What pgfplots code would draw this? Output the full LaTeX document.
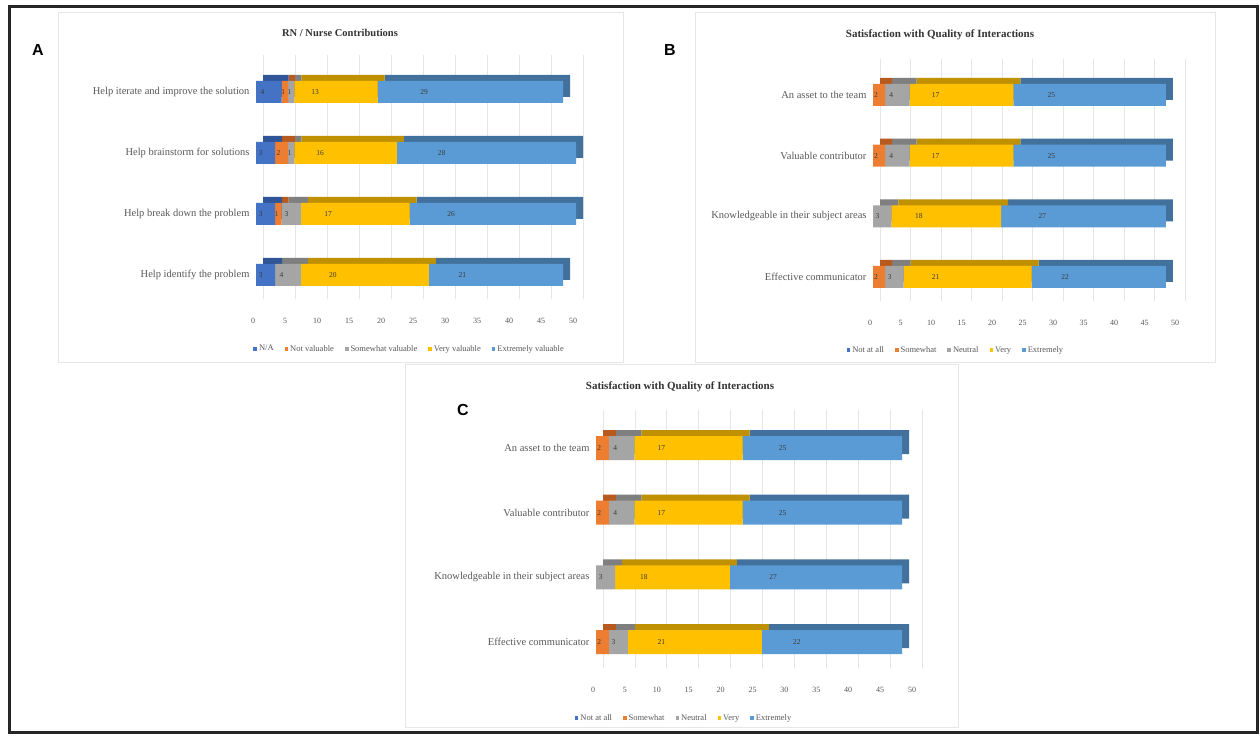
\documentclass[border=0pt]{standalone}
\usepackage{fontspec}
\setmainfont{Liberation Serif}
\newfontfamily\sansf{Liberation Sans}
\usepackage{pgfplots}
\usepackage{pgfplotstable}
\pgfplotsset{compat=1.18}

\definecolor{cA}{HTML}{4472C4}
\definecolor{cB}{HTML}{ED7D31}
\definecolor{cC}{HTML}{A5A5A5}
\definecolor{cD}{HTML}{FFC000}
\definecolor{cE}{HTML}{5B9BD5}
\definecolor{cAd}{HTML}{2F5597}
\definecolor{cBd}{HTML}{B85A1E}
\definecolor{cCd}{HTML}{7F7F7F}
\definecolor{cDd}{HTML}{BF9000}
\definecolor{cEd}{HTML}{41719C}
\definecolor{txt}{HTML}{595959}
\definecolor{vtxt}{HTML}{3A3A3A}
\definecolor{gridc}{HTML}{E6E6E6}

% Panel A: rows bottom->top: identify, break down, brainstorm, iterate
\pgfplotstableread{
y s1 s2 s3 s4 s5
0 3 0 4 20 21
1 3 1 3 17 26
2 3 2 1 16 28
3 4 1 1 13 29
}\dataA
% Panel B: effective, knowledgeable, valuable, asset
\pgfplotstableread{
y s1 s2 s3 s4 s5
0 0 2 3 21 22
1 0 0 3 18 27
2 0 2 4 17 25
3 0 2 4 17 25
}\dataB
% Panel C
\pgfplotstableread{
y s1 s2 s3 s4 s5
0 0 2 3 21 22
1 0 0 3 18 27
2 0 2 4 17 25
3 0 2 4 17 25
}\dataC

\pgfplotsset{
  panel/.style={scale only axis, xmin=0, xmax=50, ymin=-0.5, ymax=3.5,
    xbar stacked, bar width=#1, axis line style={draw=none},
    major tick length=0pt, ytick={0,1,2,3}, xtick={0,5,...,50},
    tick label style={font=\fontsize{8}{9}\selectfont, text=txt},
    /pgf/number format/assume math mode=true, clip=false},
  front/.style={point meta=explicit,
    nodes near coords={\pgfmathfloatifflags{\pgfplotspointmeta}{0}{}{\pgfmathprintnumber{\pgfplotspointmeta}}},
    every node near coord/.append style={anchor=center, xshift={-\segw*#1}, font=\fontsize{7.5}{8}\selectfont, text=vtxt, inner sep=0pt},
    yticklabel style={font=\fontsize{10.5}{11}\selectfont, xshift=-3pt},
    xticklabel style={yshift=-9pt, xshift=-3pt},
    legend image code/.code={\fill[##1] (0pt,-1.8pt) rectangle (3.6pt,1.8pt);},
    legend style={draw=none, fill=none, legend columns=-1, anchor=center,
      font=\fontsize{8.5}{9}\selectfont, text=txt,
      /tikz/every even column/.append style={column sep=9pt}}},
  back/.style={xticklabels={}, yticklabels={}, xmajorgrids, major grid style={draw=gridc, line width=0.8pt}},
}

\newcommand{\frontbars}[1]{%
  \addplot[fill=cA, draw=none, visualization depends on={\thisrow{s1}\as\segw}] table[x=s1, y=y, meta=s1] {#1};
  \addplot[fill=cB, draw=none, visualization depends on={\thisrow{s2}\as\segw}] table[x=s2, y=y, meta=s2] {#1};
  \addplot[fill=cC, draw=none, visualization depends on={\thisrow{s3}\as\segw}] table[x=s3, y=y, meta=s3] {#1};
  \addplot[fill=cD, draw=none, visualization depends on={\thisrow{s4}\as\segw}] table[x=s4, y=y, meta=s4] {#1};
  \addplot[fill=cE, draw=none, visualization depends on={\thisrow{s5}\as\segw}] table[x=s5, y=y, meta=s5] {#1};
}
\newcommand{\backbars}[1]{%
  \addplot[fill=cAd, draw=none] table[x=s1, y=y] {#1};
  \addplot[fill=cBd, draw=none] table[x=s2, y=y] {#1};
  \addplot[fill=cCd, draw=none] table[x=s3, y=y] {#1};
  \addplot[fill=cDd, draw=none] table[x=s4, y=y] {#1};
  \addplot[fill=cEd, draw=none] table[x=s5, y=y] {#1};
}

\begin{document}
\begin{tikzpicture}
\useasboundingbox (0pt,0pt) rectangle (1260pt,736pt);
\fill[white] (0pt,0pt) rectangle (1260pt,736pt);
% panel boxes
\draw[gridc, line width=1pt] (58pt,373pt) rectangle (623pt,723pt);
\draw[gridc, line width=1pt] (695pt,373pt) rectangle (1215pt,723pt);
\draw[gridc, line width=1pt] (405pt,9pt) rectangle (958pt,371pt);
% outer frame
\draw[black!85, line width=3pt] (9.5pt,3.5pt) rectangle (1257pt,729pt);

% panel letters and titles
\node[font=\sansf\bfseries\fontsize{16}{16}\selectfont] at (38pt,686pt) {A};
\node[font=\sansf\bfseries\fontsize{16}{16}\selectfont] at (670pt,686pt) {B};
\node[font=\sansf\bfseries\fontsize{16}{16}\selectfont] at (463pt,326pt) {C};
\node[font=\bfseries\fontsize{10.5}{12}\selectfont, text=black!80] at (340pt,703pt) {RN / Nurse Contributions};
\node[font=\bfseries\fontsize{11}{12}\selectfont, text=black!80] at (940pt,701pt) {Satisfaction with Quality of Interactions};
\node[font=\bfseries\fontsize{11}{12}\selectfont, text=black!80] at (680pt,349pt) {Satisfaction with Quality of Interactions};

% ---------- Panel A ----------
\begin{axis}[panel=22pt, back, at={(263pt,436.5pt)}, anchor=south west, width=320pt, height=244pt]
\backbars{\dataA}
\end{axis}
\begin{axis}[panel=22pt, front=1.6pt, at={(256pt,430.5pt)}, anchor=south west, width=320pt, height=244pt,
  yticklabels={Help identify the problem, Help break down the problem, Help brainstorm for solutions, Help iterate and improve the solution},
  legend style={at={(0.48,-0.178)}}]
\frontbars{\dataA}
\legend{N/A, Not valuable, Somewhat valuable, Very valuable, Extremely valuable}
\end{axis}

% ---------- Panel B ----------
\begin{axis}[panel=22pt, back, at={(880pt,434.7pt)}, anchor=south west, width=305pt, height=242.7pt]
\backbars{\dataB}
\end{axis}
\begin{axis}[panel=22pt, front=1.525pt, at={(873pt,428.7pt)}, anchor=south west, width=305pt, height=242.7pt,
  yticklabels={Effective communicator, Knowledgeable in their subject areas, Valuable contributor, An asset to the team},
  legend style={at={(0.272,-0.176)}}]
\frontbars{\dataB}
\legend{Not at all, Somewhat, Neutral, Very, Extremely}
\end{axis}

% ---------- Panel C ----------
\begin{axis}[panel=24pt, back, at={(603pt,67.6pt)}, anchor=south west, width=319pt, height=258.7pt]
\backbars{\dataC}
\end{axis}
\begin{axis}[panel=24pt, front=1.595pt, at={(596pt,61.6pt)}, anchor=south west, width=319pt, height=258.7pt,
  yticklabels={Effective communicator, Knowledgeable in their subject areas, Valuable contributor, An asset to the team},
  legend style={at={(0.276,-0.169)}}]
\frontbars{\dataC}
\legend{Not at all, Somewhat, Neutral, Very, Extremely}
\end{axis}
\end{tikzpicture}
\end{document}
